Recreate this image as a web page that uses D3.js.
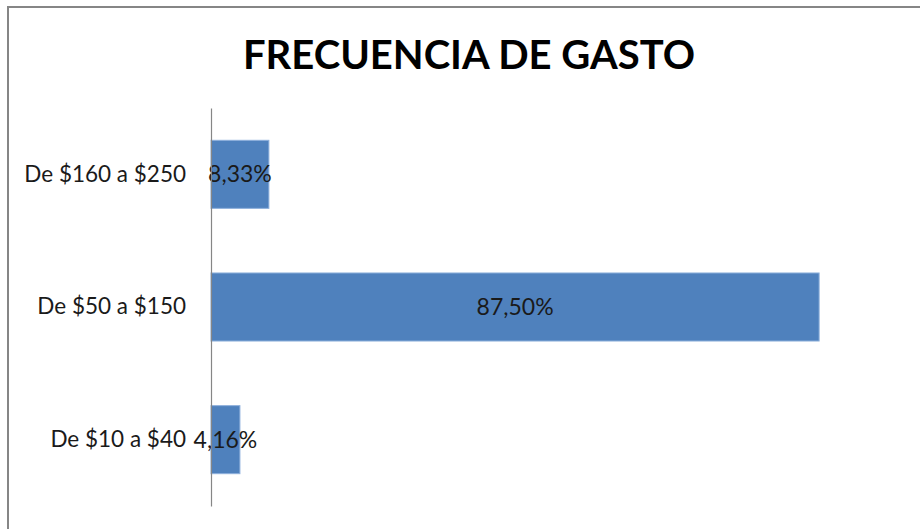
<!DOCTYPE html>
<html>
<head>
<meta charset="utf-8">
<script src="https://cdn.jsdelivr.net/npm/d3@7"></script>
<style>
  body { margin: 0; background: #fff; }
  svg { display: block; }
</style>
</head>
<body>
<svg id="chart" width="920" height="529"></svg>
<script>
const title = 'FRECUENCIA DE GASTO';
const categories = ['De $160 a $250', 'De $50 a $150', 'De $10 a $40'];
const values = [8.33, 87.5, 4.16];
const valueLabels = ['8,33%', '87,50%', '4,16%'];

const svg = d3.select('#chart');
const W = 920, H = 529;

// chart frame, runs off the right and bottom edge
svg.append('rect')
  .attr('x', 8).attr('y', 7)
  .attr('width', W + 10).attr('height', H + 10)
  .attr('fill', '#fff')
  .attr('stroke', '#868686')
  .attr('stroke-width', 2);

svg.append('text')
  .attr('x', 469).attr('y', 69)
  .attr('text-anchor', 'middle')
  .attr('font-family', 'Lato, sans-serif')
  .attr('font-weight', 'bold')
  .attr('font-size', 40)
  .attr('fill', '#000')
  .text(title);

const plot = { left: 211, right: 906, top: 108, bottom: 506 };

const x = d3.scaleLinear().domain([0, 100]).range([plot.left, plot.right]);
const y = d3.scaleBand()
  .domain(categories)
  .range([plot.top, plot.bottom])
  .paddingInner(0.487)
  .paddingOuter(0.2435);

const g = svg.append('g');

g.selectAll('rect.bar')
  .data(categories)
  .join('rect')
  .attr('class', 'bar')
  .attr('x', x(0))
  .attr('y', d => y(d))
  .attr('width', (d, i) => x(values[i]) - x(0))
  .attr('height', y.bandwidth())
  .attr('fill', '#4F81BD')
  .attr('stroke', '#8EB0DC')
  .attr('stroke-width', 1);

// category axis
const axis = d3.axisLeft(y).tickSize(0).tickPadding(25);
const ax = svg.append('g')
  .attr('transform', `translate(${plot.left},0)`)
  .call(axis);
ax.select('.domain').attr('stroke', '#868686').attr('stroke-width', 1.2);
ax.selectAll('text')
  .attr('font-family', 'Lato, sans-serif')
  .attr('font-size', 22.5)
  .attr('fill', '#1a1a1a');

g.selectAll('text.val')
  .data(categories)
  .join('text')
  .attr('class', 'val')
  .attr('x', (d, i) => (x(0) + x(values[i])) / 2)
  .attr('y', d => y(d) + y.bandwidth() / 2)
  .attr('dy', '0.35em')
  .attr('text-anchor', 'middle')
  .attr('font-family', 'Lato, sans-serif')
  .attr('font-size', 23)
  .attr('fill', '#1a1a1a')
  .text((d, i) => valueLabels[i]);
</script>
</body>
</html>
